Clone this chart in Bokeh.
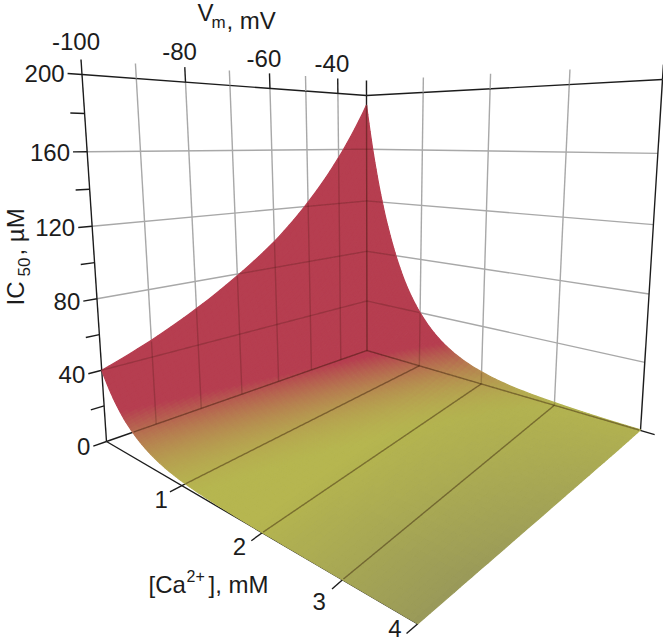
import numpy as np
from bokeh.plotting import figure
from bokeh.models import Range1d
from bokeh.embed import file_html
from bokeh.resources import INLINE
from bokeh.core.properties import value

# ---- values -----------------------------------------------------------
vm_mV = [-100, -90, -80, -70, -60, -50, -40, -30]
ca_mM = [0, 0.25, 0.5, 0.75, 1, 1.5, 2, 2.5, 3, 4]
ic50_ca0 = [40, 50, 63, 79, 98, 123, 154, 193]
ic50_ca025 = [19.9, 26, 34, 45, 58, 76, 99.5, 130]
ic50_ca05 = [9.9, 13.5, 18.5, 25.4, 34.3, 47, 64, 88]
ic50_ca075 = [4.9, 7, 10, 14.4, 20.3, 29, 41.5, 59]
ic50_ca1 = [2.4, 3.6, 5.4, 8.1, 12, 18, 26.8, 40]
ic50_ca15 = [0.6, 1, 1.6, 2.6, 4.2, 6.9, 11.2, 18.3]
ic50_ca2 = [0.15, 0.27, 0.47, 0.85, 1.5, 2.6, 4.7, 8.4]
ic50_ca25 = [0.036, 0.07, 0.14, 0.27, 0.51, 1, 1.9, 3.8]
ic50_ca3 = [0.009, 0.02, 0.04, 0.09, 0.18, 0.39, 0.8, 1.74]
ic50_ca4 = [0.001, 0.002, 0.004, 0.009, 0.02, 0.05, 0.14, 0.37]
ic_ticks_major = [0, 40, 80, 120, 160, 200]
ic_ticks_minor = [20, 60, 100, 140, 180]
vm_ticks_major = [-100, -80, -60, -40]
vm_ticks_minor = [-90, -70, -50]
ca_ticks = [1, 2, 3, 4]

# ---- view of the 3D box on the page --------------------------------------
# box corners, [V index][Ca index][IC50 index]
box = np.array([[[(106, 441), (81.5, 74)], [(417.3, 623.3), (421, 150)]],
                [[(366.5, 350), (366, 95)], [(640, 430), (662, 79)]]], float)
# where the ticks fall along the edges: perspective foreshortening
top_edge_x = np.array([81.5, 136, 185, 229, 270, 305, 337.5, 366])
near_edge_x = np.array([106, 181, 262.3, 341.7, 417.3])
far_edge_x = np.array([366.5, 418, 482, 553, 640])
mid_edge_y = np.array([350, 300, 251, 201, 148, 95])

def warp_of(knots):
    u = np.linspace(0, 1, len(knots))
    f = (knots - knots[0]) / (knots[-1] - knots[0])
    M = np.column_stack([u*(1-u), u*u*(1-u)])
    k = np.linalg.lstsq(M, f - u, rcond=None)[0]
    return lambda s: s + s*(1-s)*(k[0] + k[1]*s)
warp_v = warp_of(top_edge_x)
warp_near = warp_of(near_edge_x)
warp_far = warp_of(far_edge_x)
warp_ic = warp_of(mid_edge_y)

def proj(V, C, I):
    V, C, I = np.asarray(V, float), np.asarray(C, float), np.asarray(I, float)
    a = warp_v((V + 100) / 70)
    s = C / 4
    b = (1 - a) * warp_near(s) + a * warp_far(s)
    c = warp_ic(I / 200)
    out = []
    for d in (0, 1):
        q = 0
        for i, wa in ((0, 1-a), (1, a)):
            for j, wb in ((0, 1-b), (1, b)):
                for k, wc in ((0, 1-c), (1, c)):
                    q = q + wa*wb*wc*box[i, j, k, d]
        out.append(q)
    return out[0], out[1]

p = figure(width=663, height=642, x_range=Range1d(0, 663), y_range=Range1d(642, 0),
           output_backend="svg", toolbar_location=None, min_border=0,
           background_fill_color="white", border_fill_color="white")
p.axis.visible = False
p.grid.visible = False
p.outline_line_color = None

GRAY, BLACK = "#a8a8a8", "#1c1c1c"
gray_lines, black_lines = [], []   # 3D end points
for I in ic_ticks_major[1:-1]:
    gray_lines += [((-100, 0, I), (-30, 0, I)), ((-30, 0, I), (-30, 4, I))]
for V in vm_ticks_major[1:] + vm_ticks_minor:
    gray_lines.append(((V, 0, 0), (V, 0, 200)))
for C in ca_ticks[:-1]:
    gray_lines.append(((-30, C, 0), (-30, C, 200)))
black_lines += [((-100, 0, 0), (-100, 0, 200)), ((-30, 0, 0), (-30, 0, 200)),
                ((-30, 4, 0), (-30, 4, 200)), ((-100, 0, 200), (-30, 0, 200)),
                ((-30, 0, 200), (-30, 4, 200)), ((-100, 0, 0), (-30, 0, 0)),
                ((-30, 0, 0), (-30, 4.15, 0)), ((-100, 0, 0), (-100, 4, 0))]
for I in ic_ticks_major + ic_ticks_minor:
    black_lines.append(((-102.5, 0, I), (-100, 0, I)))
for C in ca_ticks:
    black_lines.append(((-102.5, C, 0), (-100, C, 0)))
    if C < 4:
        black_lines.append(((-100, C, 0), (-30, C, 0)))

def polyline(a, b, n=2):
    x0, y0 = proj(*a)
    x1, y1 = proj(*b)
    t = np.linspace(0, 1, n)
    return x0 + (x1-x0)*t, y0 + (y1-y0)*t
def draw_lines(lines, color, width):
    xs, ys = [], []
    for a, b in lines:
        x, y = polyline(a, b)
        xs.append(list(x)); ys.append(list(y))
    p.multi_line(xs, ys, line_color=color, line_width=width)
draw_lines(gray_lines, GRAY, 1.4)
draw_lines(black_lines, BLACK, 1.4)

# short marks above the top edges, a fixed pixel length
def up_marks(points, color, length=15):
    xs, ys = [], []
    for V, C in points:
        x0, y0 = proj(V, C, 200)
        x1, y1 = proj(V, C, 190)
        d = np.hypot(x0-x1, y0-y1)
        xs.append([float(x0), float(x0 + (x0-x1)/d*length)])
        ys.append([float(y0), float(y0 + (y0-y1)/d*length)])
    p.multi_line(xs, ys, line_color=color, line_width=1.4)
up_marks([(V, 0) for V in vm_ticks_minor] + [(-30, C) for C in ca_ticks[:-1]], GRAY)
up_marks([(V, 0) for V in vm_ticks_major] + [(-30, 0), (-30, 4)], BLACK)

# ---- surface ------------------------------------------------------------
table = np.array([ic50_ca0, ic50_ca025, ic50_ca05, ic50_ca075, ic50_ca1,
                  ic50_ca15, ic50_ca2, ic50_ca25, ic50_ca3, ic50_ca4], float)
v_fine = np.linspace(-100, -30, 50)
c_fine = np.concatenate([np.linspace(0, 1.6, 72)[:-1], np.linspace(1.6, 2.6, 16)[:-1], np.linspace(2.6, 4, 18)])
log_rows = np.array([np.interp(v_fine, vm_mV, np.log(r)) for r in table])
log_I = np.array([np.interp(c_fine, ca_mM, log_rows[:, j]) for j in range(len(v_fine))]).T
I_fine = np.exp(log_I)
VV, CC = np.meshgrid(v_fine, c_fine)
X, Y = proj(VV, CC, I_fine)

def colour(I, V, C):
    t = np.clip((I - 1.5) / (22 - 1.5), 0, 1)
    r = 182
    g = 182 + (62-182)*t
    b = 80
    dark = np.clip((C-1.8)/2.2, 0, 1) * np.clip(1.15-(V+100)/70, 0, 1)
    f = 1 - 0.16*dark
    r, g = r*f, g*f
    b = b + 10*dark
    return "#%02x%02x%02x" % (int(r), int(g), int(b))
pxs, pys, cols = [], [], []
for i in range(len(c_fine)-2, -1, -1):
    for j in range(len(v_fine)-1):
        pxs.append([X[i, j], X[i, j+1], X[i+1, j+1], X[i+1, j]])
        pys.append([Y[i, j], Y[i, j+1], Y[i+1, j+1], Y[i+1, j]])
        cols.append(colour(I_fine[i:i+2, j:j+2].mean(), VV[i, j], CC[i, j]))
p.patches(pxs, pys, fill_color=cols, line_color=cols, line_width=1.2)

# the lines behind the translucent surface show through it
outline_x = np.concatenate([X[0, :], X[:, -1], X[-1, ::-1], X[::-1, 0]])
outline_y = np.concatenate([Y[0, :], Y[:, -1], Y[-1, ::-1], Y[::-1, 0]])
def inside(x, y):
    xa, ya = outline_x[:-1], outline_y[:-1]
    xb, yb = outline_x[1:], outline_y[1:]
    res = np.zeros(len(x), bool)
    for k in range(len(x)):
        cond = (ya > y[k]) != (yb > y[k])
        with np.errstate(divide="ignore", invalid="ignore"):
            xc = xa + (y[k]-ya)*(xb-xa)/(yb-ya)
        res[k] = (np.count_nonzero(cond & (x[k] < xc)) % 2) == 1
    return res
def through(lines, color, alpha, width):
    xs, ys = [], []
    for a, b in lines:
        x, y = polyline(a, b, 260)
        m = inside(x, y)
        k = 0
        while k < len(x):
            if m[k]:
                e = k
                while e+1 < len(x) and m[e+1]:
                    e += 1
                if e > k:
                    xs.append(list(x[k:e+1])); ys.append(list(y[k:e+1]))
                k = e+1
            else:
                k += 1
    p.multi_line(xs, ys, line_color=color, line_alpha=alpha, line_width=width)
through(gray_lines, "#2a1000", 0.2, 1.4)
through(black_lines, "#2a1000", 0.42, 1.4)

# ---- texts --------------------------------------------------------------
FONT = value("Liberation Sans")
TXT = "#1c1c1c"
SIZE = 24
def label(x, y, s, size=SIZE, align="left", angle=0):
    p.text([x], [y], text=[s], text_font=FONT, text_font_size=f"{size}px", text_color=TXT,
           text_align=align, text_baseline="middle", angle=angle)
def on_baseline(x, y, s, size=SIZE):
    label(x, y - 0.36*size, s, size)
def on_baseline_up(x, y, s, size=SIZE):
    label(x - 0.36*size, y, s, size, angle=np.pi/2)

for I in ic_ticks_major:
    x, y = proj(-102.5, 0, I)
    label(float(x)-3, float(y)+0.5, str(I), align="right")
for V, dy in zip(vm_ticks_major, [18, 16, 15, 15]):
    x, y = proj(V, 0, 200)
    label(float(x)-6, float(y)-15-dy, str(V), align="center")
for C, dx, dy in zip(ca_ticks, [-8.7, -12, -12.7, -11.5], [8, 6, 12.7, 2.5]):
    x, y = proj(-102.5, C, 0)
    label(float(x)+dx, min(float(y)+dy, 628), str(C), align="center")

on_baseline(197, 21, "V")
on_baseline(211, 28, "m", 17)
on_baseline(226, 29, ", mV")
on_baseline(148, 593, "[Ca")
on_baseline(186, 581, "2+", 16)
on_baseline(208, 593, "], mM")
on_baseline_up(24, 305, "IC")
on_baseline_up(30, 276, "50", 17)
on_baseline_up(24, 255, " , µM")

open("out.html", "w").write(file_html(p, INLINE))
